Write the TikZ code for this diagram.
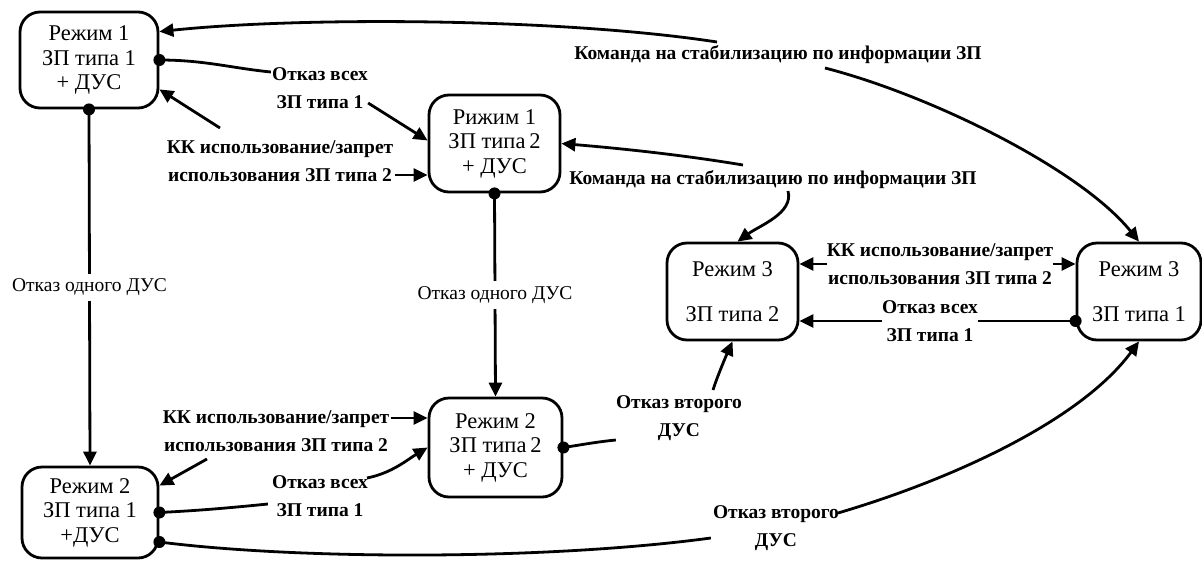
\documentclass[tikz,border=0pt]{standalone}
\usepackage{fontspec}
\setmainfont{Liberation Serif}
\usetikzlibrary{arrows.meta,calc}
\begin{document}
\begin{tikzpicture}[x=1pt,y=-1pt,
  mode/.style={draw, line width=2.8pt, rounded corners=20pt, align=center, inner sep=0pt,
    font=\fontsize{22.5}{24.5}\selectfont},
  lbl/.style={align=center, inner sep=0pt, font=\fontsize{19.5}{27.5}\selectfont\bfseries},
  plain/.style={fill=white, inner sep=5pt, font=\fontsize{19.5}{22}\selectfont},
  conn/.style={line width=2.8pt},
  arr/.style={conn, -{Triangle[length=14pt,width=13pt]}},
]
\useasboundingbox (0,0) rectangle (1202,560);

% operating modes
\node[mode, minimum width=138pt, minimum height=96pt] (A) at (89,60) {Режим 1\\ЗП типа 1\\+ ДУС};
\node[mode, minimum width=131pt, minimum height=97pt] (B) at (494.5,143.5) {Рижим 1\\ЗП типа\,2\\+ ДУС};
\node[mode, minimum width=131pt, minimum height=97pt] (C) at (732.5,291.5) {Режим 3\\[20pt]ЗП типа 2};
\node[mode, minimum width=124pt, minimum height=97pt] (D) at (1139,291.5) {Режим 3\\[20pt]ЗП типа 1};
\node[mode, minimum width=133pt, minimum height=99pt] (E) at (495.5,447.5) {Режим 2\\ЗП типа\,2\\+ ДУС};
\node[mode, minimum width=136pt, minimum height=91pt] (F) at (90,512.5) {Режим 2\\ЗП типа 1\\+ДУС};

% transition events
\node[lbl] (L1) at (320,88) {Отказ всех\\ЗП типа 1};
\node[lbl] (L2) at (280,161) {КК использование/запрет\\использования ЗП типа 2};
\node[lbl] (L3) at (778,55) {Команда на стабилизацию по информации ЗП};
\node[lbl] (L4) at (773,180) {Команда на стабилизацию по информации ЗП};
\node[lbl] (L5) at (940,264) {КК использование/запрет\\использования ЗП типа 2};
\node[lbl] (L6) at (930,321) {Отказ всех\\ЗП типа 1};
\node[lbl] (L7) at (679,418) {Отказ второго\\ДУС};
\node[lbl] (L8) at (776,528) {Отказ второго\\ДУС};
\node[lbl] (L9) at (320,496) {Отказ всех\\ЗП типа 1};
\node[lbl] (L10) at (276,431) {КК использование/запрет\\использования ЗП типа 2};

% loss of one angular rate sensor
\draw[arr] (A.south) -- node[plain] (R1) {Отказ одного ДУС} (F.north);
\draw[arr] (B.south) -- node[plain] (R2) {Отказ одного ДУС} (E.north);

% upper left group
\draw[conn] (A.east) .. controls +(45,0) and +(-40,-4) .. ($(L1.west)+(-1,-16)$);
\draw[arr] ($(L1.east)+(0,15)$) -- ($(B.west)+(0,-3)$);
\draw[arr] ($(L2.center)+(-60,-33)$) -- ($(A.south east)+(0,-20)$);
\coordinate (L2e) at ($(L2.east)+(2,14)$);
\draw[arr] (L2e) -- (B.west |- L2e);

% stabilisation commands
\draw[arr] ($(L3.center)+(-61,-13)$) .. controls +(-157,-24) and +(142,-15) .. ($(A.north east)+(0,21)$);
\draw[arr] ($(L3.center)+(47,13)$) .. controls +(105,27) and +(-59,-73) .. (D.north);
\draw[arr] ($(L4.center)+(-30,-15)$) .. controls +(-60,-10) and +(60,5) .. (B.east);
\draw[arr] ($(L4.center)+(15,11)$) .. controls +(6,22) and +(22,-16) .. ($(C.north)+(5,0)$);

% mode 3 pair
\draw[arr] (L5.west) -- (C.east |- L5.west);
\draw[arr] (L5.east) -- (D.west |- L5.east);
\coordinate (d1) at (D.west |- L6.east);
\draw[conn] (d1) -- (L6.east);
\draw[arr] (L6.west) -- (C.east |- L6.west);

% loss of the second sensor
\draw[conn] (E.east) .. controls +(20,-3) and +(-20,2) .. ($(L7.west)+(0,22)$);
\draw[arr] ($(L7.center)+(34,-28)$) .. controls +(3,-10) and +(-8,18) .. (C.south);
\coordinate (d2) at ($(F.east)+(0,29.5)$);
\draw[conn] (d2) .. controls +(142,18) and +(-163,22) .. ($(L8.west)+(-2,10)$);
\draw[arr] ($(L8.center)+(62,-15)$) .. controls +(112,-33) and +(-59,80) .. (D.south);

% lower left group
\draw[conn] (F.east) .. controls +(40,-2) and +(-40,4) .. ($(L9.west)+(-4,8)$);
\draw[arr] ($(L9.center)+(47,-18)$) .. controls +(25,-5) and +(-20,12) .. (E.west);
\coordinate (L10e) at ($(L10.east)+(2,-13)$);
\draw[arr] (L10e) -- (E.west |- L10e);
\draw[arr] ($(L10.center)+(-69,28)$) -- ($(F.north east)+(0,20)$);

% connector origins
\foreach \p in {A.south, B.south, A.east, E.east, F.east, d1, d2}
  \fill (\p) circle (6pt);
\end{tikzpicture}
\end{document}
